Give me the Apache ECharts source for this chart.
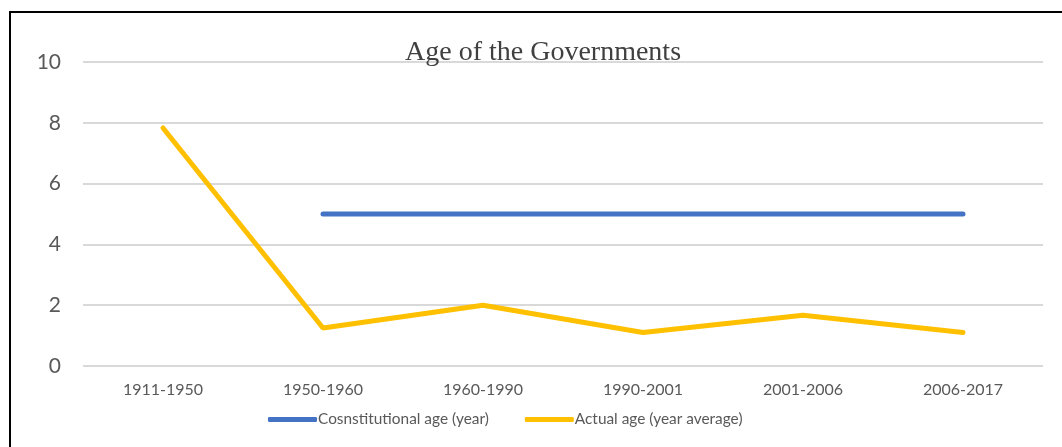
<!DOCTYPE html>
<html>
<head>
<meta charset="utf-8">
<script src="https://cdn.jsdelivr.net/npm/echarts@6/dist/echarts.min.js"></script>
<style>
  html, body { margin: 0; padding: 0; background: #fff; }
  #frame { position: absolute; left: 9px; top: 11px; width: 1070px; height: 460px; border: 2px solid #000; box-sizing: border-box; }
  #chart { position: absolute; left: 0; top: 0; width: 1062px; height: 447px; }
</style>
</head>
<body>
<div id="frame"></div>
<div id="chart"></div>
<script>
(() => {
    const periods = ["1911-1950", "1950-1960", "1960-1990", "1990-2001", "2001-2006", "2006-2017"];
    // constitutional term, no value for the first period
    const constitutional = [null, 5, 5, 5, 5, 5];
    const actual = [7.83, 1.25, 2.0, 1.1, 1.67, 1.1];

    const GREY = "#595959";
    const FONT = "Lato, 'Open Sans', sans-serif";

    let chart = echarts.init(document.getElementById("chart"));
    let option = {
        animation: false,
        title: {
            text: "Age of the Governments",
            left: 400,
            top: 34,
            textStyle: {
                fontFamily: "'Liberation Serif', 'Times New Roman', serif",
                fontWeight: "normal",
                fontSize: 28,
                color: "#404040"
            }
        },
        legend: {
            bottom: 15,
            left: 263,
            itemWidth: 49,
            itemHeight: 5,
            itemGap: 36,
            icon: "roundRect",
            textStyle: { fontFamily: FONT, fontSize: 15.4, color: GREY, padding: [0, 0, 0, -4] },
            data: ["Cosnstitutional age (year)", "Actual age (year average)"]
        },
        grid: { left: 83, right: 19, top: 62, bottom: 81 },
        xAxis: {
            type: "category",
            data: periods,
            boundaryGap: true,
            axisLine: { show: false },
            axisTick: { show: false },
            axisLabel: { fontFamily: FONT, fontSize: 16, color: GREY, margin: 16 }
        },
        yAxis: {
            type: "value",
            min: 0,
            max: 10,
            interval: 2,
            axisLabel: { fontFamily: FONT, fontSize: 21, color: GREY, margin: 22 },
            splitLine: { lineStyle: { color: "#D9D9D9", width: 2 } }
        },
        series: [
            {
                name: "Cosnstitutional age (year)",
                type: "line",
                data: constitutional,
                showSymbol: false,
                symbol: "none",
                lineStyle: { color: "#4472C4", width: 5, cap: "round" },
                itemStyle: { color: "#4472C4" }
            },
            {
                name: "Actual age (year average)",
                type: "line",
                data: actual,
                showSymbol: false,
                symbol: "none",
                lineStyle: { color: "#FFC000", width: 5, cap: "round" },
                itemStyle: { color: "#FFC000" }
            }
        ]
    };
    chart.setOption(option);
})();
</script>
</body>
</html>
